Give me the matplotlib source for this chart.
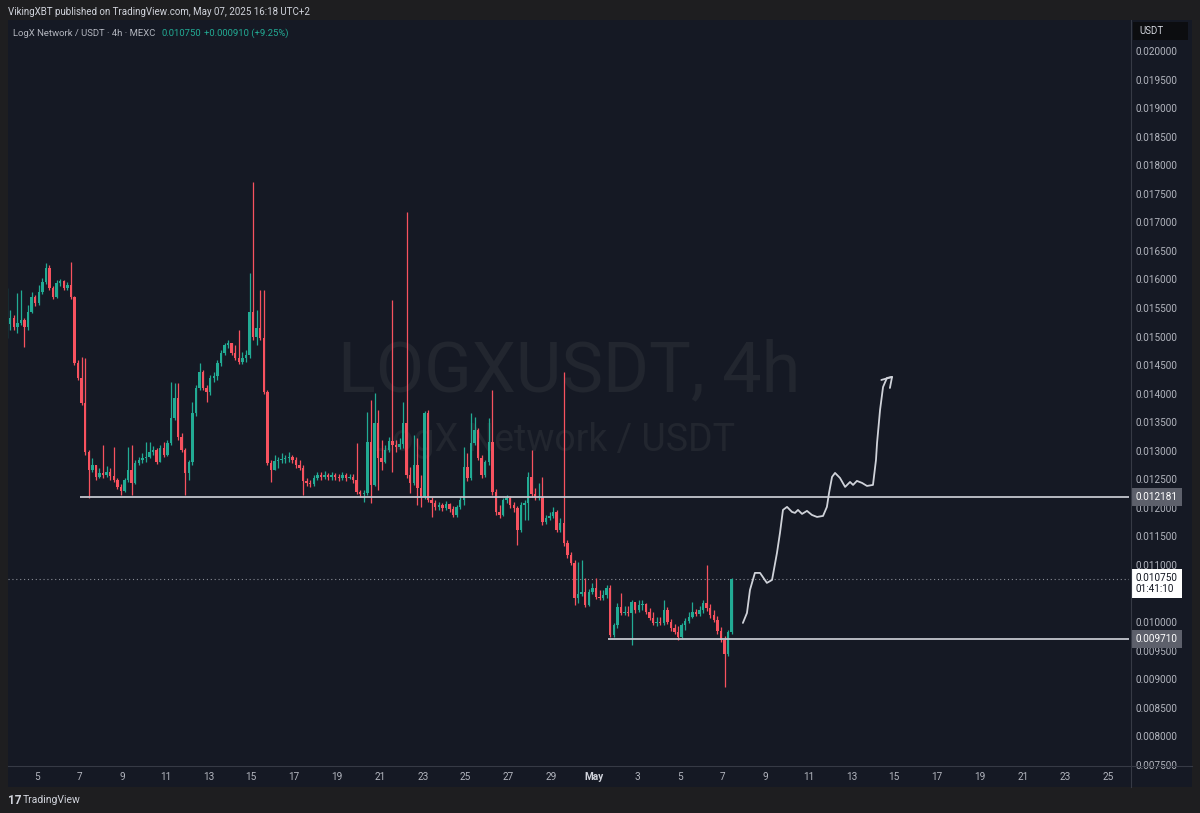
import matplotlib
matplotlib.use("Agg")
import matplotlib.pyplot as plt
import matplotlib.dates as mdates
import matplotlib.transforms as mtransforms
from matplotlib.lines import Line2D
from matplotlib.patches import Rectangle
import numpy as np
import pandas as pd

plt.rcParams['font.family'] = ['Roboto', 'DejaVu Sans']

# LOGX/USDT 4h candles on MEXC, prices in units of 1e-5 USDT
first_candle = "2025-04-03 14:00"
first_open = 1506
close_1e5 = [
    1522, 1533, 1517, 1524, 1529, 1517, 1543, 1569, 1559, 1578,
    1596, 1620, 1585, 1569, 1594, 1597, 1585, 1590, 1569, 1454,
    1427, 1384, 1298, 1266, 1275, 1254, 1261, 1258, 1263, 1256,
    1249, 1237, 1230, 1249, 1266, 1244, 1279, 1284, 1287, 1289,
    1298, 1301, 1280, 1305, 1293, 1314, 1357, 1392, 1324, 1301,
    1261, 1280, 1366, 1410, 1438, 1410, 1403, 1427, 1431, 1454,
    1471, 1485, 1489, 1471, 1462, 1455, 1462, 1468, 1543, 1499,
    1515, 1498, 1403, 1279, 1266, 1282, 1284, 1286, 1287, 1289,
    1284, 1275, 1270, 1247, 1244, 1242, 1252, 1258, 1254, 1258,
    1254, 1258, 1254, 1252, 1258, 1252, 1254, 1249, 1228, 1224,
    1226, 1315, 1240, 1349, 1287, 1280, 1301, 1317, 1310, 1307,
    1312, 1349, 1258, 1244, 1275, 1235, 1219, 1366, 1214, 1209,
    1202, 1205, 1200, 1207, 1198, 1188, 1202, 1214, 1272, 1252,
    1314, 1336, 1287, 1258, 1280, 1315, 1228, 1193, 1188, 1214,
    1217, 1205, 1200, 1161, 1205, 1209, 1254, 1224, 1219, 1219,
    1175, 1182, 1186, 1193, 1161, 1174, 1139, 1118, 1104, 1042,
    1049, 1053, 1030, 1053, 1060, 1044, 1042, 1048, 1060, 977,
    995, 1026, 1016, 1018, 1016, 1035, 1021, 1030, 1032, 1018,
    1007, 998, 1000, 998, 1021, 1000, 990, 983, 974, 995,
    1002, 1009, 1018, 1014, 1021, 1033, 1025, 1012, 1004, 984,
    969, 944, 983, 1075,
]
high_1e5 = [
    1585, 1547, 1538, 1576, 1582, 1533, 1555, 1578, 1573, 1590,
    1603, 1629, 1625, 1589, 1599, 1601, 1599, 1596, 1631, 1571,
    1459, 1464, 1462, 1301, 1287, 1275, 1270, 1310, 1273, 1270,
    1307, 1252, 1242, 1252, 1307, 1310, 1284, 1289, 1296, 1315,
    1315, 1308, 1305, 1310, 1315, 1319, 1420, 1419, 1419, 1331,
    1305, 1284, 1385, 1415, 1454, 1441, 1415, 1433, 1438, 1459,
    1476, 1489, 1494, 1489, 1485, 1512, 1473, 1476, 1611, 1771,
    1547, 1582, 1582, 1406, 1284, 1293, 1289, 1296, 1293, 1298,
    1293, 1289, 1284, 1275, 1252, 1249, 1258, 1263, 1263, 1265,
    1261, 1263, 1261, 1259, 1263, 1261, 1259, 1259, 1314, 1231,
    1231, 1368, 1389, 1401, 1371, 1319, 1310, 1324, 1564, 1319,
    1322, 1385, 1718, 1272, 1328, 1322, 1258, 1370, 1371, 1219,
    1214, 1210, 1209, 1212, 1209, 1203, 1205, 1219, 1307, 1296,
    1366, 1359, 1340, 1293, 1284, 1357, 1406, 1233, 1205, 1217,
    1223, 1221, 1210, 1203, 1210, 1214, 1263, 1301, 1235, 1244,
    1254, 1188, 1193, 1202, 1196, 1182, 1438, 1144, 1123, 1109,
    1105, 1109, 1077, 1058, 1069, 1077, 1056, 1056, 1065, 1065,
    998, 1033, 1051, 1028, 1028, 1039, 1035, 1039, 1039, 1033,
    1025, 1018, 1009, 1009, 1039, 1026, 1005, 997, 993, 998,
    1007, 1018, 1035, 1023, 1028, 1039, 1100, 1032, 1021, 1011,
    991, 976, 986, 1077,
]
low_1e5 = [
    1498, 1512, 1512, 1506, 1520, 1482, 1512, 1541, 1554, 1555,
    1575, 1592, 1582, 1566, 1568, 1589, 1582, 1582, 1566, 1450,
    1424, 1380, 1293, 1217, 1263, 1249, 1252, 1252, 1254, 1249,
    1245, 1233, 1223, 1228, 1245, 1223, 1242, 1275, 1279, 1280,
    1287, 1293, 1277, 1280, 1289, 1291, 1310, 1354, 1319, 1298,
    1223, 1249, 1275, 1361, 1406, 1406, 1385, 1398, 1420, 1424,
    1448, 1468, 1480, 1468, 1459, 1452, 1452, 1455, 1462, 1494,
    1485, 1494, 1399, 1275, 1245, 1266, 1270, 1279, 1279, 1280,
    1279, 1270, 1266, 1223, 1238, 1237, 1238, 1249, 1249, 1251,
    1249, 1249, 1249, 1247, 1249, 1247, 1251, 1244, 1224, 1219,
    1210, 1223, 1209, 1238, 1231, 1266, 1279, 1298, 1263, 1298,
    1303, 1305, 1252, 1226, 1240, 1205, 1202, 1216, 1210, 1184,
    1196, 1196, 1195, 1196, 1193, 1184, 1184, 1198, 1205, 1247,
    1249, 1310, 1284, 1252, 1254, 1275, 1223, 1188, 1182, 1186,
    1209, 1200, 1193, 1135, 1158, 1179, 1179, 1219, 1214, 1214,
    1170, 1172, 1179, 1182, 1158, 1158, 1133, 1112, 1100, 1030,
    1033, 1046, 1026, 1028, 1049, 1041, 1039, 1039, 1042, 974,
    974, 990, 1012, 1012, 1011, 960, 1016, 1018, 1021, 1014,
    1004, 995, 993, 995, 995, 997, 984, 979, 969, 972,
    986, 998, 1007, 1011, 1011, 1016, 1019, 1007, 1000, 979,
    965, 886, 941, 979,
]

# horizontal levels and last price
level_top = 0.012181
level_top_from = "2025-04-07 00:00"
level_bottom = 0.009710
level_bottom_from = "2025-05-01 16:00"
last_price = 0.010750
change_abs = 0.000910
change_pct = 9.25
countdown = "01:41:10"

# hand drawn projection: day of May and price
path_day = [7.94, 8.13, 8.27, 8.50, 8.74, 9.06, 9.30, 9.53, 9.67, 9.81,
            10.00, 10.23, 10.37, 10.51, 10.70, 10.93, 11.16, 11.40, 11.68, 11.86,
            11.96, 12.10, 12.24, 12.47, 12.71, 12.94, 13.08, 13.26, 13.50, 13.73,
            14.01, 14.15, 14.20, 14.34, 14.48, 14.66, 14.90]
path_price = [0.009984, 0.010159, 0.010562, 0.010860, 0.010860, 0.010685, 0.010737,
              0.011210, 0.011560, 0.011963, 0.012016, 0.011928, 0.011911, 0.011963,
              0.011893, 0.011946, 0.011875, 0.011840, 0.011858, 0.012016, 0.012261,
              0.012541, 0.012611, 0.012523, 0.012366, 0.012453, 0.012401, 0.012471,
              0.012436, 0.012383, 0.012401, 0.012838, 0.013136, 0.013714, 0.014116,
              0.014274, 0.014292]
head_day = [14.40, 14.90, 14.80]
head_price = [0.014239, 0.014292, 0.014099]

price_ticks = np.arange(0.0075, 0.02001, 0.0005)
tick_days_apr = list(range(5, 30, 2))
tick_days_may = list(range(1, 26, 2))

# colours
BG = '#151924'
OUTER = '#1e1e20'
GREEN = '#22ab94'
RED = '#f7525f'
TXT = '#b2b5be'
W, H = 1200, 813


def fx(px):
    return px / W


def fy(py):
    return 1 - py / H


fig = plt.figure(figsize=(12, 8.13), dpi=100, facecolor=OUTER)
fig.patches.append(Rectangle((fx(8), fy(787)), (1192 - 8) / W, (787 - 20) / H,
                             transform=fig.transFigure, facecolor=BG,
                             edgecolor='none', zorder=-5))

ax = fig.add_axes([fx(8), fy(765), (1129 - 8) / W, (765 - 20) / H])
ax.set_zorder(1)
ax.set_facecolor(BG)
for s in ax.spines.values():
    s.set_visible(False)

c = np.array(close_1e5) / 1e5
hi = np.array(high_1e5) / 1e5
lo = np.array(low_1e5) / 1e5
o = np.r_[first_open / 1e5, c[:-1]]
hi = np.maximum(hi, np.maximum(o, c))
lo = np.minimum(lo, np.minimum(o, c))
t = pd.date_range(first_candle, periods=len(c), freq='4h')
x = mdates.date2num(t)
colors = np.where(c >= o, GREEN, RED)

ax.vlines(x, lo, hi, colors=colors, lw=0.9, zorder=3)
ax.bar(x, np.maximum(np.abs(c - o), 1.2e-5), bottom=np.minimum(o, c),
       width=0.115, color=colors, linewidth=0, zorder=4)

# axis range
x_left = mdates.date2num(pd.Timestamp("2025-04-05") - pd.Timedelta(days=1.353))
x_right = mdates.date2num(pd.Timestamp("2025-04-05") + pd.Timedelta(days=50.957))
ax.set_xlim(x_left, x_right)
ax.set_ylim(0.007496, 0.020543)

# levels
ax.hlines(level_top, mdates.date2num(pd.Timestamp(level_top_from)), x_right,
          color='#c3c6ce', lw=1.3, zorder=5)
ax.hlines(level_bottom, mdates.date2num(pd.Timestamp(level_bottom_from)), x_right,
          color='#c3c6ce', lw=1.3, zorder=5)
ax.axhline(last_price, color='#8a8d96', lw=0.8, ls=(0, (1, 2.5)), zorder=2)

# projection drawing
may0 = mdates.date2num(pd.Timestamp("2025-04-30"))
ax.plot(may0 + np.array(path_day), path_price, color='#cfd2d9', lw=1.3,
        solid_joinstyle='round', solid_capstyle='round', zorder=6)
ax.plot(may0 + np.array(head_day), head_price, color='#cfd2d9', lw=1.3,
        solid_joinstyle='round', solid_capstyle='round', zorder=6)

# ticks
ax.yaxis.tick_right()
ax.set_yticks(price_ticks)
ax.set_yticklabels([f"{p:.6f}" for p in price_ticks])
ax.tick_params(axis='y', length=0, pad=5, labelsize=7.2, labelcolor=TXT)

tick_dates = ([pd.Timestamp(2025, 4, d) for d in tick_days_apr]
              + [pd.Timestamp(2025, 5, d) for d in tick_days_may])
tick_labels = ([str(d) for d in tick_days_apr]
               + ['May' if d == 1 else str(d) for d in tick_days_may])
ax.set_xticks(mdates.date2num(tick_dates))
ax.set_xticklabels(tick_labels)
ax.tick_params(axis='x', length=0, pad=5, labelsize=7.2, labelcolor=TXT)
for lab in ax.get_xticklabels():
    if lab.get_text() == 'May':
        lab.set_fontweight('bold')
        lab.set_color('#d1d4dc')

# watermark
ax.text(fx(569), fy(372), "LOGXUSDT, 4h", transform=fig.transFigure,
        ha='center', va='center', fontsize=50.5, color='#22262f', zorder=1)
ax.text(fx(553), fy(440), "LogX Network / USDT", transform=fig.transFigure,
        ha='center', va='center', fontsize=27, color='#22262f', zorder=1)

# price labels on the scale
tr = mtransforms.blended_transform_factory(ax.transAxes, ax.transData)
lab_x = (1136 - 8) / (1129 - 8)
for lvl in (level_top, level_bottom):
    ax.text(lab_x, lvl, f"{lvl:.6f}", transform=tr, ha='left', va='center',
            fontsize=7.2, color='white', clip_on=False, zorder=10,
            bbox=dict(boxstyle='square,pad=0.4', fc='#5d606b', ec='none'))
tr_up = mtransforms.offset_copy(tr, fig=fig, y=6, units='dots')
ax.text(lab_x, last_price, f"{last_price:.6f}\n{countdown}", transform=tr_up,
        ha='left', va='top', fontsize=7.2, color='#131722', linespacing=1.15,
        clip_on=False, zorder=10,
        bbox=dict(boxstyle='square,pad=0.4', fc='white', ec='none'))

# separators of the chart panel
fig.add_artist(Line2D([fx(8), fx(1192)], [fy(766), fy(766)], color='#363a45', lw=0.8))
fig.add_artist(Line2D([fx(1130.5), fx(1130.5)], [fy(20), fy(787)], color='#363a45', lw=0.8))

# currency box
fig.patches.append(Rectangle((fx(1133), fy(40)), 55 / W, 18 / H, transform=fig.transFigure,
                             facecolor='#0c0d10', edgecolor='none', zorder=2))
fig.text(fx(1139), fy(31), "USDT", color='#d1d4dc', fontsize=7, va='center')

# header texts
fig.text(fx(8), fy(12), "VikingXBT published on TradingView.com, May 07, 2025 16:18 UTC+2",
         color='#d1d4dc', fontsize=7, va='center')
fig.text(fx(13), fy(33), "LogX Network / USDT · 4h · MEXC", color=TXT, fontsize=6.8, va='center')
fig.text(fx(161), fy(33), f"{last_price:.6f}", color=GREEN, fontsize=6.8, va='center')
fig.text(fx(204), fy(33), f"+{change_abs:.6f} (+{change_pct:.2f}%)", color=GREEN,
         fontsize=6.8, va='center')

# footer logo
fig.text(fx(8), fy(800), "17", color='#d1d4dc', fontsize=8.5, fontweight='bold', va='center')
fig.text(fx(23), fy(800), "TradingView", color='#d1d4dc', fontsize=7.5, va='center')

fig.savefig("out.png", dpi=100, facecolor=fig.get_facecolor())
